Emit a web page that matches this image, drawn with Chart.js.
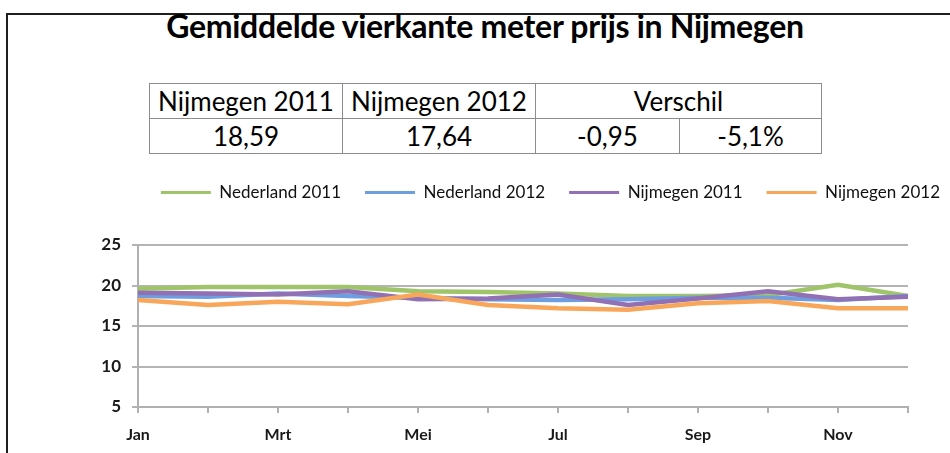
<!DOCTYPE html>
<html>
<head>
<meta charset="utf-8">
<script src="https://cdn.jsdelivr.net/npm/chart.js@4/dist/chart.umd.min.js"></script>
<style>
  html, body { margin:0; padding:0; background:#fff; }
  body { width:950px; height:453px; position:relative; overflow:hidden; font-family: Lato, "Open Sans", sans-serif; }
  #frame { position:absolute; left:6px; top:13px; width:960px; height:460px; border-top:2px solid #1e1e1e; border-left:2px solid #1e1e1e; }
  #title { position:absolute; left:0; top:6px; width:970px; text-align:center; font-weight:bold; font-size:32px; color:#000; letter-spacing:-0.3px; }
  #tbl { position:absolute; left:149px; top:83px; border-collapse:collapse; font-size:26px; color:#000; }
  #tbl td { border:1px solid #8c8c8c; text-align:center; padding:0; height:34px; line-height:34px; }
  #cv { position:absolute; left:0; top:0; }
</style>
</head>
<body>
<div id="frame"></div>
<div id="title">Gemiddelde vierkante meter prijs in Nijmegen</div>
<table id="tbl">
  <tr><td style="width:192px">Nijmegen 2011</td><td style="width:192px">Nijmegen 2012</td><td colspan="2">Verschil</td></tr>
  <tr><td>18,59</td><td>17,64</td><td style="width:143px">-0,95</td><td style="width:141px">-5,1%</td></tr>
</table>
<canvas id="cv" width="950" height="453"></canvas>
<script>
const months = ['Jan','Feb','Mrt','Apr','Mei','Jun','Jul','Aug','Sep','Okt','Nov','Dec'];
const nederland2011 = [19.6,19.8,19.8,19.8,19.3,19.2,19.0,18.7,18.7,18.8,20.1,18.7];
const nederland2012 = [18.7,18.6,19.0,18.7,18.5,18.3,18.2,18.3,18.5,18.5,18.2,18.7];
const nijmegen2011  = [19.1,19.0,18.9,19.3,18.3,18.4,18.9,17.6,18.4,19.3,18.3,18.6];
const nijmegen2012  = [18.2,17.6,18.0,17.7,18.9,17.6,17.2,17.0,17.8,18.1,17.2,17.2];
const yTicks = [5,10,15,20,25];

const FONT = 'Lato, "Open Sans", sans-serif';
const mk = (label, data, color, order) => ({
  label, data, borderColor: color, backgroundColor: color, borderWidth: 4.5,
  pointRadius: 0, tension: 0, fill: false, order
});

new Chart(document.getElementById('cv'), {
  type: 'line',
  data: {
    labels: months,
    datasets: [
      mk('Nederland 2011', nederland2011, '#9fc46a', 4),
      mk('Nederland 2012', nederland2012, '#6e9de0', 3),
      mk('Nijmegen 2011', nijmegen2011, '#9170b3', 2),
      mk('Nijmegen 2012', nijmegen2012, '#f8a659', 1)
    ]
  },
  options: {
    responsive: false,
    animation: false,
    layout: { padding: { top: 160, left: 0, right: -14, bottom: 0 } },
    plugins: {
      tooltip: { enabled: false },
      title: { display: true, text: ' ', weight: 500, position: 'top', font: { size: 10, lineHeight: 1 }, padding: { top: 12, bottom: 12 } },
      legend: {
        position: 'top',
        align: 'end',
        labels: {
          usePointStyle: true, pointStyle: 'line', pointStyleWidth: 50,
          font: { family: FONT, size: 17 }, color: '#111', padding: 24,
          sort: (a, b) => a.datasetIndex - b.datasetIndex,
          generateLabels: (chart) => {
            const items = Chart.defaults.plugins.legend.labels.generateLabels(chart);
            items.forEach(it => { it.lineWidth = 3; });
            return items;
          }
        }
      }
    },
    scales: {
      x: {
        type: 'category',
        afterFit: (s) => { s.height = 46; },
        border: { color: '#b0b0b0', width: 2 },
        grid: { display: true, drawOnChartArea: false, drawTicks: true, tickLength: 6, color: '#b0b0b0', lineWidth: 2 },
        ticks: {
          autoSkip: false, maxRotation: 0, padding: 12,
          font: { family: FONT, size: 16, weight: 'bold' }, color: '#1a1a1a',
          callback: (v, i) => (i % 2 === 0 ? months[i] : '')
        }
      },
      y: {
        min: 5, max: 25,
        afterFit: (s) => { s.width = 138; },
        afterBuildTicks: (s) => { s.ticks = yTicks.map(v => ({ value: v })); },
        border: { color: '#b0b0b0', width: 2 },
        grid: { color: '#b4b4b4', lineWidth: 2, tickLength: 6 },
        ticks: { padding: 11, font: { family: FONT, size: 17, weight: 'bold' }, color: '#1a1a1a' }
      },
      yRight: {
        position: 'right', min: 5, max: 25,
        afterFit: (s) => { s.width = 56; },
        border: { display: false },
        grid: { display: false, drawTicks: false },
        ticks: { display: false }
      }
    }
  }
});
</script>
</body>
</html>
